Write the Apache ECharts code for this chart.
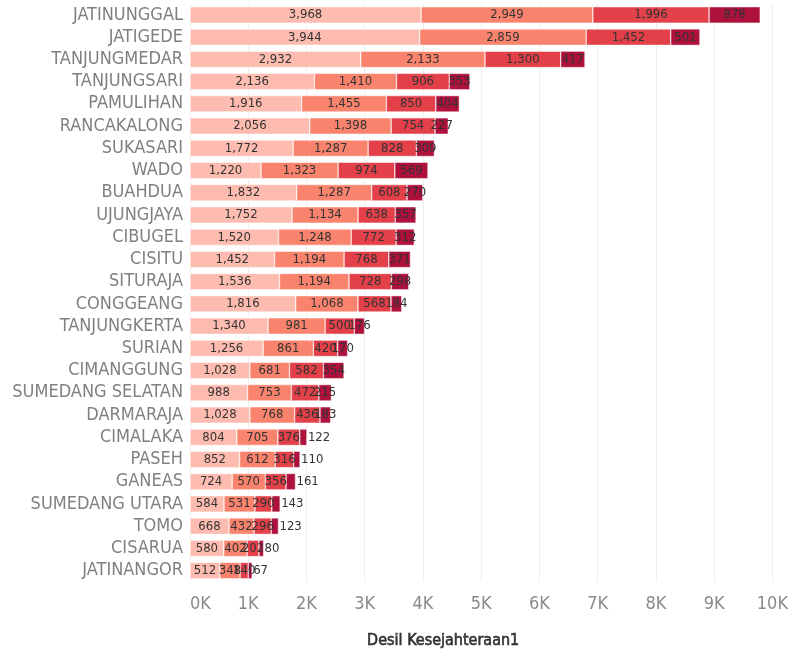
<!DOCTYPE html>
<html>
<head>
<meta charset="utf-8">
<script src="https://cdn.jsdelivr.net/npm/echarts@6/dist/echarts.min.js"></script>
<style>html,body{margin:0;padding:0;background:#fff;overflow:hidden}#c{width:791px;height:654px}</style>
</head>
<body>
<div id="c"></div>
<script>
const categories = ["JATINUNGGAL","JATIGEDE","TANJUNGMEDAR","TANJUNGSARI","PAMULIHAN","RANCAKALONG","SUKASARI","WADO","BUAHDUA","UJUNGJAYA","CIBUGEL","CISITU","SITURAJA","CONGGEANG","TANJUNGKERTA","SURIAN","CIMANGGUNG","SUMEDANG SELATAN","DARMARAJA","CIMALAKA","PASEH","GANEAS","SUMEDANG UTARA","TOMO","CISARUA","JATINANGOR"];
const desil1 = [3968,3944,2932,2136,1916,2056,1772,1220,1832,1752,1520,1452,1536,1816,1340,1256,1028,988,1028,804,852,724,584,668,580,512];
const desil2 = [2949,2859,2133,1410,1455,1398,1287,1323,1287,1134,1248,1194,1194,1068,981,861,681,753,768,705,612,570,531,432,402,348];
const desil3 = [1996,1452,1300,906,850,754,828,974,608,638,772,768,728,568,500,420,582,472,436,376,316,356,290,296,202,140];
const desil4 = [878,501,417,353,404,227,309,569,270,357,312,371,298,184,176,170,354,215,183,122,110,161,143,123,80,67];
const xTicks = [0,1000,2000,3000,4000,5000,6000,7000,8000,9000,10000];
</script>
<script>
const chart = echarts.init(document.getElementById('c'), null, {renderer:'canvas'});
const FONT = '"Liberation Sans Narrow","DejaVu Sans Condensed",sans-serif';
const colors = ['#FEBCB0','#F9836D','#E3404A','#AD113C'];
const series = [desil1,desil2,desil3,desil4].map((arr,i)=>({
  name: 'Desil '+(i+1),
  type: 'bar',
  stack: 'total',
  barWidth: '74%',
  itemStyle: {color: colors[i], borderColor:'#fff', borderWidth:0.5},
  label: {show:true, position:'inside', color:'#333', fontFamily:FONT, fontSize:13,
          formatter: p => p.value.toLocaleString('en-US')},
  data: arr.map(v => (i===3 && v < 165) ? {value:v, label:{position:'right', distance:1}} : v)
}));
chart.setOption({
  animation:false,
  grid:{left:190, right:15.3, top:3.8, bottom:68.8, containLabel:false},
  xAxis:{type:'value', min:0, max:xTicks[xTicks.length-1], interval:xTicks[1]-xTicks[0],
    axisLine:{show:false}, axisTick:{show:false},
    splitLine:{show:true, lineStyle:{color:'#eeeeee', width:1}},
    axisLabel:{color:'#8a8a8a', fontFamily:FONT, fontSize:18, margin:14, alignMinLabel:'left',
      formatter: v => (v/1000)+'K'},
    name:'Desil Kesejahteraan1', nameLocation:'middle', nameGap:51,
    nameTextStyle:{color:'#333', fontFamily:FONT, fontSize:16, fontWeight:'normal',
      textBorderColor:'#333', textBorderWidth:0.6, padding:[0,76,0,0]}
  },
  yAxis:{type:'category', data:categories, inverse:true,
    axisLine:{show:false}, axisTick:{show:false}, splitLine:{show:false},
    axisLabel:{color:'#808080', fontFamily:FONT, fontSize:18, margin:7, interval:0}
  },
  series: series
});
</script>
</body>
</html>
